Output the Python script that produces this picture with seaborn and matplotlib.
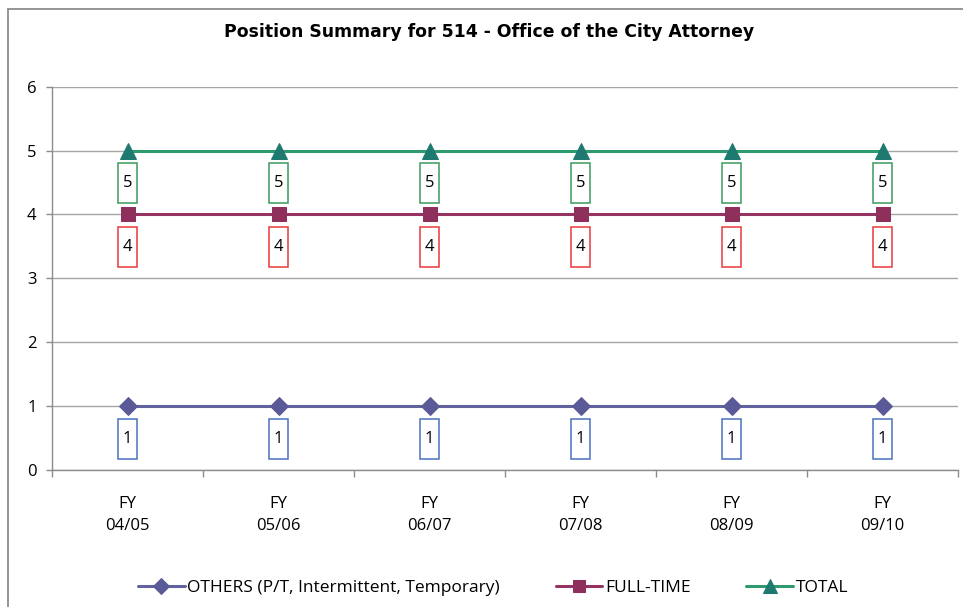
import pandas as pd
import matplotlib
matplotlib.use("Agg")
import matplotlib.pyplot as plt
from matplotlib.path import Path
from matplotlib.patches import Rectangle
from matplotlib.ticker import FixedLocator
import seaborn as sns

# chart data
years = ["FY\n04/05", "FY\n05/06", "FY\n06/07", "FY\n07/08", "FY\n08/09", "FY\n09/10"]
others = [1, 1, 1, 1, 1, 1]
full_time = [4, 4, 4, 4, 4, 4]
total = [5, 5, 5, 5, 5, 5]

series_names = ["OTHERS (P/T, Intermittent, Temporary)", "FULL-TIME", "TOTAL"]
df = pd.DataFrame({
    "year": years * 3,
    "count": others + full_time + total,
    "series": [series_names[0]] * 6 + [series_names[1]] * 6 + [series_names[2]] * 6,
})

line_colors = {series_names[0]: "#62629E", series_names[1]: "#953462", series_names[2]: "#2F9A6E"}
marker_colors = {series_names[0]: "#5A5A98", series_names[1]: "#8E2F5C", series_names[2]: "#1E7A70"}
box_colors = {series_names[0]: "#4A72C0", series_names[1]: "#E8383A", series_names[2]: "#3A9A5E"}
markers = {series_names[0]: "D", series_names[1]: "s", series_names[2]: "^"}
msize = {series_names[0]: 9, series_names[1]: 10, series_names[2]: 11}

sns.set_theme(style="white")
plt.rcParams["font.family"] = ["Open Sans", "DejaVu Sans"]
plt.rcParams["text.color"] = "black"
plt.rcParams["xtick.color"] = "black"
plt.rcParams["ytick.color"] = "black"

fig = plt.figure(figsize=(9.63, 6.07), dpi=100)
# chart area border (extends past the right/bottom edge like the original)
fig.patches.append(Rectangle((8 / 963, -0.05), 1.0, 1.05 - 9 / 607, transform=fig.transFigure,
                             fill=False, edgecolor="#8C8C8C", linewidth=1.3))
ax = fig.add_axes([0.054, 0.226, 0.941, 0.631])

for name in series_names:
    sub = df[df["series"] == name]
    sns.lineplot(data=sub, x="year", y="count", ax=ax, color=line_colors[name],
                 linewidth=2.2, marker=markers[name], markersize=msize[name],
                 markerfacecolor=marker_colors[name], markeredgecolor=marker_colors[name],
                 label=name, sort=False)


def tall_box(x0, y0, width, height, mutation_size):
    px = 0.28 * mutation_size
    py = 0.72 * mutation_size
    x0, y0 = x0 - px, y0 - py
    x1, y1 = x0 + width + 2 * px, y0 + height + 2 * py
    return Path([(x0, y0), (x1, y0), (x1, y1), (x0, y1), (x0, y0)], closed=True)


for name in series_names:
    sub = df[df["series"] == name].reset_index(drop=True)
    for i, v in enumerate(sub["count"]):
        ax.annotate(str(v), (i, v), xytext=(0, -23.5), textcoords="offset points",
                    ha="center", va="center", fontsize=12, color="black",
                    bbox=dict(boxstyle=tall_box, facecolor="white",
                              edgecolor=box_colors[name], linewidth=1.1))

ax.set_xlim(-0.5, 5.5)
ax.set_ylim(0, 6)
ax.set_yticks(range(0, 7))
ax.yaxis.grid(True, color="#A6A6A6", linewidth=1)
ax.set_axisbelow(True)
ax.set_xlabel("")
ax.set_ylabel("")
for s in ["top", "right"]:
    ax.spines[s].set_visible(False)
for s in ["left", "bottom"]:
    ax.spines[s].set_color("#8C8C8C")
    ax.spines[s].set_linewidth(1)

ax.xaxis.set_minor_locator(FixedLocator([i - 0.5 for i in range(7)]))
ax.tick_params(axis="x", which="major", length=0, pad=19, labelsize=12)
ax.tick_params(axis="x", which="minor", length=5, color="#8C8C8C", width=1, bottom=True)
ax.tick_params(axis="y", which="major", length=4, color="#8C8C8C", width=1, left=True, labelsize=12, pad=7)
for lbl in ax.get_xticklabels():
    lbl.set_linespacing(1.45)

fig.text(0.508, 0.947, "Position Summary for 514 - Office of the City Attorney",
         ha="center", va="center", fontsize=12.4, fontweight="bold", color="black",
         family=["DejaVu Sans"])

ax.legend_.remove()
handles, labels = ax.get_legend_handles_labels()
fig.legend(handles, labels, loc="center", bbox_to_anchor=(0.512, 0.031), ncol=3,
           frameon=False, fontsize=12.5, handlelength=2.7, columnspacing=3.2, handletextpad=0.15,
           markerscale=0.9)

fig.savefig("out.png", dpi=100)
